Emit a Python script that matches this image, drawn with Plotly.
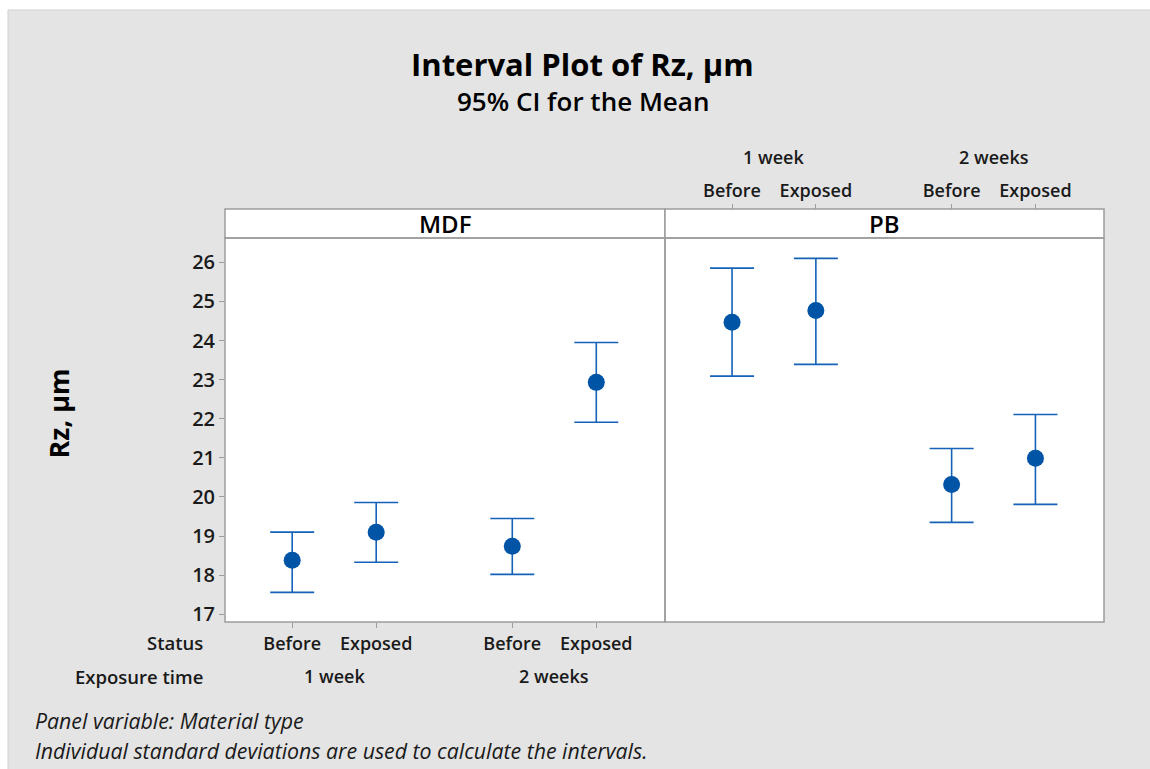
import plotly.graph_objects as go

# ---------------- data ----------------
status = ["Before", "Exposed", "Before", "Exposed"]
exposure_time = ["1 week", "1 week", "2 weeks", "2 weeks"]
panels = ["MDF", "PB"]

mdf_mean = [18.38, 19.10, 18.74, 22.93]
mdf_upper = [19.10, 19.86, 19.45, 23.95]
mdf_lower = [17.56, 18.33, 18.02, 21.91]

pb_mean = [24.47, 24.77, 20.32, 20.99]
pb_upper = [25.85, 26.10, 21.24, 22.11]
pb_lower = [23.09, 23.39, 19.35, 19.81]

y_ticks = [17, 18, 19, 20, 21, 22, 23, 24, 25, 26]

# ---------------- layout helpers ----------------
W, H = 1150, 769
L, R, T, B = 225, 1104, 209, 622        # pixel box of plot area (incl. strip)
STRIP_BOTTOM = 238
MID = 665


def px(xp):
    return (xp - L) / (R - L)


def py(yp):
    return (B - yp) / (B - T)


y_top = py(STRIP_BOTTOM)
x_mid = px(MID)

GROUP_STEP = 2.62
groups = []
for t in exposure_time:
    if t not in groups:
        groups.append(t)
positions = []
counter = {}
for s, t in zip(status, exposure_time):
    g = groups.index(t)
    k = counter.get(t, 0)
    counter[t] = k + 1
    positions.append(g * GROUP_STEP + k)
x_range = [positions[0] - 0.80, positions[-1] + 0.818]

FONT = "Open Sans"
BLUE = "#0054A6"
LINE_BLUE = "#1562B8"
GRAY = "#9C9C9C"
BG = "#E4E4E4"

fig = go.Figure()


def add_panel(mean, upper, lower, xa, ya):
    fig.add_trace(go.Scatter(
        x=positions, y=mean, xaxis=xa, yaxis=ya, mode="markers",
        marker=dict(color=BLUE, size=17, line=dict(width=0)),
        error_y=dict(type="data", symmetric=False,
                     array=[u - m for u, m in zip(upper, mean)],
                     arrayminus=[m - l for m, l in zip(mean, lower)],
                     color=LINE_BLUE, thickness=1.6, width=22),
        showlegend=False, hoverinfo="y"))


add_panel(mdf_mean, mdf_upper, mdf_lower, "x", "y")
add_panel(pb_mean, pb_upper, pb_lower, "x2", "y2")

xtickfont = dict(family=FONT, size=18, color="#1a1a1a", weight=600)
ytickfont = dict(family=FONT, size=20, color="#1a1a1a", weight=600)
y_range = [26 - (B - 262.3) / 39.11, 26 + (262.3 - STRIP_BOTTOM) / 39.11]

common_x = dict(range=x_range, tickvals=positions, ticktext=status,
                ticks="outside", ticklen=5, tickcolor=GRAY, showgrid=False,
                zeroline=False, showline=False, tickfont=xtickfont, fixedrange=True)

fig.update_layout(
    width=W, height=H, autosize=False,
    margin=dict(l=L, r=W - R, t=T, b=H - B, pad=0),
    paper_bgcolor=BG, plot_bgcolor="white",
    xaxis=dict(domain=[0, x_mid], anchor="y", side="bottom", **common_x),
    xaxis2=dict(domain=[x_mid, 1], anchor="free", position=1, side="top", **common_x),
    yaxis=dict(domain=[0, y_top], anchor="x", range=y_range, tickvals=y_ticks,
               ticks="outside", ticklen=5, tickcolor=GRAY, showgrid=False,
               zeroline=False, showline=False, tickfont=ytickfont, fixedrange=True),
    yaxis2=dict(domain=[0, y_top], anchor="x2", matches="y", range=y_range,
                showticklabels=False, ticks="", showgrid=False,
                zeroline=False, showline=False, fixedrange=True),
)

shapes = []
# white outer margin (top and left) as in the reference image
shapes.append(dict(type="rect", xref="paper", yref="paper", x0=px(0), x1=px(W),
                   y0=py(10), y1=py(0), fillcolor="white", line=dict(width=0), layer="above"))
shapes.append(dict(type="rect", xref="paper", yref="paper", x0=px(0), x1=px(8),
                   y0=py(H), y1=py(0), fillcolor="white", line=dict(width=0), layer="above"))
shapes.append(dict(type="line", xref="paper", yref="paper", x0=px(8), x1=px(W),
                   y0=py(10), y1=py(10), line=dict(color="#D0D0D0", width=1)))
shapes.append(dict(type="line", xref="paper", yref="paper", x0=px(8), x1=px(8),
                   y0=py(10), y1=py(H), line=dict(color="#D0D0D0", width=1)))
# strips and panel frames
for x0, x1 in [(0, x_mid), (x_mid, 1)]:
    shapes.append(dict(type="rect", xref="paper", yref="paper", x0=x0, x1=x1,
                       y0=y_top, y1=1, fillcolor="white",
                       line=dict(color=GRAY, width=1.5), layer="above"))
    shapes.append(dict(type="rect", xref="paper", yref="paper", x0=x0, x1=x1,
                       y0=0, y1=y_top, fillcolor="rgba(0,0,0,0)",
                       line=dict(color=GRAY, width=1.5), layer="above"))
fig.update_layout(shapes=shapes)

ann = []


def text(xp, yp, s, size, weight=600, italic=False, xanchor="center",
         color="#1a1a1a", angle=0):
    ann.append(dict(x=px(xp), y=py(yp), xref="paper", yref="paper", text=s,
                    showarrow=False, xanchor=xanchor, yanchor="middle", textangle=angle,
                    font=dict(family=FONT, size=size, color=color, weight=weight,
                              style="italic" if italic else "normal")))


text(582, 64, "Interval Plot of Rz, µm", 31, weight=700, color="black")
text(583, 101, "95% CI for the Mean", 26, weight=600, color="black")

# y-axis title
text(57.5, 414, "Rz, µm", 27, weight=700, color="black", angle=-90)

# strip labels
text((L + MID) / 2, 223.5, panels[0], 24, weight=600, color="black")
text((MID + R) / 2, 223.5, panels[1], 24, weight=600, color="black")

# group labels
for gi, g in enumerate(groups):
    idx = [i for i, t in enumerate(exposure_time) if t == g]
    cx_units = sum(positions[i] for i in idx) / len(idx)
    frac = (cx_units - x_range[0]) / (x_range[1] - x_range[0])
    mdf_cx = L + frac * (MID - L)
    pb_cx = MID + frac * (R - MID)
    text(mdf_cx, 676, g, 18)
    text(pb_cx, 157, g, 18)

text(205, 642, "Status", 18.5, xanchor="right")
text(205, 676, "Exposure time", 18.5, xanchor="right")

text(33, 720, "Panel variable: Material type", 21.3, weight=400, italic=True, xanchor="left")
text(33, 750, "Individual standard deviations are used to calculate the intervals.", 21.3,
     weight=400, italic=True, xanchor="left")

fig.update_layout(annotations=ann)

fig.write_html(
    "out.html",
    config={"displayModeBar": False},
    post_script="document.body.style.margin='0';document.body.style.overflow='hidden';",
)
